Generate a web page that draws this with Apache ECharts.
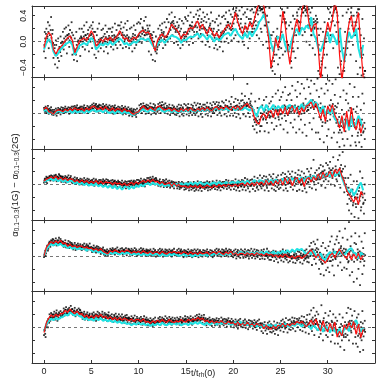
<!DOCTYPE html>
<html><head><meta charset="utf-8">
<script src="https://cdn.jsdelivr.net/npm/echarts@6/dist/echarts.min.js"></script>
<style>html,body{margin:0;padding:0;background:#fff}#c{width:382px;height:382px}</style>
</head><body><div id="c"></div>
<script>
// tick values
const xTicks = [0, 5, 10, 15, 20, 25, 30];
const yTicks = [-0.4, -0.2, 0, 0.2, 0.4];
const yLabelTicks = [-0.4, 0, 0.4];
// sampling steps (in t/t_rh(0)) of the line series and of the scatter points
const LINE_STEP = 0.25, DOT_STEP = 1 / 12;

// ---------- panel 1 ----------
const red1 = [-.09,.08,.14,.1, -.12,-.19,-.12,-.08, -.04,.02,.06,.09, .02,-.17,-.08,.01, .03,.06,.02,.08, .17,.1,-.07,-.02,
 .04,0,.06,.02, .07,.01,.05,.09, .17,.1,.04,.06, 0,.03,.07,.05, .12,.15,.18,.13, .15,.1,-.02,-.14,
 .02,.08,.12,.06, .1,.18,.27,.22, .19,.14,.04,.12, .1,.18,.22,.2, .27,.32,.2,.27, .18,.12,.22,.16,
 .08,.14,.06,.12, .17,.22,.27,.2, .32,.45,.3,.2, .12,.25,.18,.3, .22,.35,.5,.6, .62,.55,.3,.05,
 -.4,-.2,.06,-.1, .1,.47,.25,-.1, -.35,-.05,.2,.35, .15,.45,.62,.6, .3,.15,.25,.28, -.1,-.6,-.2,.1,
 .3,.15,.35,.62, .45,-.2,-.6,-.3, .05,.28,.4,.15, .3,.45,-.1,-.55];
const cyan1 = [-.12,-.02,.04,0, -.15,-.22,-.18,-.12, -.08,-.04,-.02,0, -.05,-.2,-.14,-.06, -.04,-.02,-.05,0, .06,.02,-.12,-.08,
 -.03,-.06,-.02,-.05, 0,-.05,-.02,.01, .05,.02,-.04,-.02, -.06,-.03,0,-.02, .02,.05,.04,.02, .05,0,-.06,-.1,
 -.04,0,.03,-.02, .02,.06,.1,.08, .07,.04,-.02,.03, .02,.06,.08,.07, .1,.13,.06,.12, .08,.03,.1,.05,
 0,.06,.02,.05, .1,.12,.14,.09, .16,.2,.12,.08, .04,.14,.06,.16, .08,.15,.2,.3, .35,.42,.3,.15,
 -.02,-.15,0,.08, .02,.12,-.05,-.15, -.1,.05,.15,.2, .1,.22,.18,.25, .2,.38,.12,.05, -.1,-.15,-.05,.08,
 .15,-.02,.12,.05, -.05,.2,-.12,-.3, 0,.15,.05,.1, .2,-.1,-.25,-.05];
const dots1 = [
 -.15,.15,-.25,.2,.05,.3,-.1,.25,0,.38,-.05,.18,
 -.25,-.05,-.35,.02,-.2,-.4,.05,-.3,-.1,.08,-.22,0,
 .15,-.12,.2,-.05,.22,-.18,.1,.25,-.08,.18,0,.3,
 -.2,.1,-.28,.05,-.15,.15,-.3,0,-.1,.2,-.22,.08,
 .2,-.08,.15,.25,-.12,.1,.3,-.05,.18,-.15,.22,0,
 .25,-.1,.3,.05,-.2,.15,-.25,.1,.2,-.15,.28,0,
 -.1,.18,-.05,.2,-.15,.12,.25,-.08,.15,-.18,.2,.05,
 .2,-.08,.15,.22,-.12,.1,.28,-.05,.18,-.1,.25,0,
 .25,-.05,.3,.1,-.1,.22,0,.28,-.08,.18,.32,.05,
 -.1,.2,-.05,.22,-.15,.12,.25,-.1,.18,-.05,.28,0,
 .3,0,.28,.35,-.02,.22,.05,.32,.1,.38,.02,.25,
 .2,-.15,.25,.05,-.2,.1,-.28,.15,-.1,-.3,.08,-.18,
 -.08,.2,-.05,.25,0,.18,.28,-.1,.15,.3,-.05,.22,
 .35,0,.3,.42,.05,.28,.45,.1,.32,-.02,.38,.15,
 0,.3,-.05,.25,.35,-.1,.2,.32,-.05,.28,.05,.38,
 .35,0,.32,.4,-.05,.25,.45,.05,.3,-.02,.38,.1,
 .1,.42,.15,.48,.05,.4,.5,.12,.35,0,.45,.2,
 .38,-.05,.3,.42,0,.35,-.08,.28,.45,.05,.32,.1,
 -.1,.3,-.05,.35,-.12,.25,.4,-.08,.28,0,.38,-.15,
 .4,0,.35,.45,.05,.3,-.02,.48,.1,.42,.02,.38,
 .5,.05,.45,.1,.52,.15,.4,0,.48,.2,.35,.53,
 0,.42,-.05,.45,.1,.38,.5,-.1,.35,.05,.48,.15,
 .5,.15,.45,.2,.53,.25,.1,.48,.3,.05,.52,.2,
 .15,.5,-.05,.45,.25,.53,0,.4,-.1,.3,.52,.1,
 -.4,.1,-.45,.15,-.3,-.5,.05,-.2,.2,-.35,0,-.25,
 .4,-.1,.5,-.2,.35,.45,-.15,.3,0,.52,-.05,.25,
 -.3,.3,-.4,.2,.4,-.15,.35,-.25,.1,.45,-.1,.5,
 .3,.53,.2,.5,.1,.45,.52,.15,.4,0,.48,.25,
 .5,-.05,.45,.1,.52,-.1,.35,.2,-.2,.4,.05,.3,
 -.45,.1,-.5,.2,-.3,-.52,.15,-.1,.3,-.4,0,-.2,
 .2,.5,.05,.45,.53,.1,.4,-.1,.48,.25,.52,.15,
 .3,-.4,.1,-.5,.2,-.3,-.52,.4,-.1,-.45,.15,-.2,
 .45,-.1,.5,0,.35,-.2,.52,.25,-.05,.4,.1,.3,
 -.3,.45,-.5,.2,.5,-.4,.1,-.52,.35,-.2,.05,-.45];
const dots1b = [
 -.05,.05,.12,0,.08,.15,.02,.1,.18,.06,.12,-.02,
 -.15,-.1,-.2,-.05,-.18,-.25,-.12,-.08,-.16,-.02,-.1,-.06,
 -.02,.05,0,.08,.03,.1,.05,.12,.02,.08,.06,.14,
 0,-.1,-.18,-.12,-.2,-.05,-.1,.02,-.03,.05,0,.06,
 .05,0,.08,.03,.1,.02,.06,.12,.04,.09,.01,.1,
 .12,.2,.08,.15,.02,-.05,-.1,0,-.05,.03,-.02,.05,
 .02,.06,-.02,.08,.03,0,.07,.04,-.01,.05,.09,.02,
 .06,.02,.09,.04,0,.07,.03,.08,.05,.1,.06,.12,
 .15,.2,.1,.14,.06,.1,.03,.08,.05,.1,.02,.07,
 .02,-.03,.05,0,.08,.03,.06,.1,.04,.07,.02,.08,
 .1,.14,.08,.16,.12,.2,.15,.1,.18,.14,.11,.16,
 .12,.16,.08,.12,.02,.06,-.04,0,-.1,-.15,-.08,-.12,
 0,.05,.03,.1,.06,.14,.09,.12,.04,.08,.02,.07,
 .08,.12,.15,.2,.18,.25,.3,.22,.28,.2,.24,.18,
 .2,.15,.22,.12,.16,.05,.08,.02,.1,.14,.08,.15,
 .08,.14,.12,.2,.16,.25,.2,.24,.18,.22,.15,.23,
 .25,.3,.22,.35,.28,.18,.24,.3,.2,.26,.32,.22,
 .2,.14,.18,.1,.15,.22,.25,.18,.2,.12,.16,.2,
 .06,.1,.04,.15,.1,.18,.05,.08,.14,.1,.16,.12,
 .15,.2,.18,.25,.22,.3,.25,.2,.28,.18,.24,.2,
 .28,.35,.4,.48,.42,.3,.35,.25,.2,.28,.15,.22,
 .1,.15,.2,.28,.22,.16,.2,.14,.25,.3,.35,.28,
 .2,.25,.3,.38,.32,.45,.5,.42,.55,.52,.48,.5,
 .5,.45,.52,.38,.42,.25,.3,.15,.1,0,-.1,.05,
 -.3,-.38,-.25,-.15,-.2,-.05,0,.08,-.05,-.12,-.08,0,
 .05,.15,.3,.4,.45,.35,.28,.2,0,-.05,-.15,-.08,
 -.25,-.3,-.15,-.1,0,.1,.15,.25,.3,.4,.32,.2,
 .2,.3,.4,.5,.45,.52,.55,.48,.5,.45,.53,.4,
 .35,.25,.2,.1,.18,.25,.3,.22,.32,.28,.35,.2,
 -.05,-.2,-.4,-.5,-.35,-.25,-.1,-.2,0,.05,.15,.1,
 .25,.35,.2,.1,.3,.4,.32,.45,.55,.5,.52,.45,
 .4,.3,0,-.15,-.35,-.5,-.55,-.45,-.4,-.3,-.2,-.1,
 0,.1,.2,.3,.35,.45,.4,.3,.2,.15,.1,.25,
 .3,.4,.5,.42,.2,0,-.1,-.25,-.4,-.5,-.55,-.45];

// ---------- panel 2 ----------
const red2 = [.06,.09,.02,.01, -.02,.03,.05,.04, .02,.06,.03,.07, .04,.08,.05,.06, .07,.03,.08,.05, .09,.11,.08,.06,
 .09,.05,.1,.06, .04,.08,.03,.07, .06,.02,.07,.03, .04,0,-.02,.01, .02,.07,.11,.07, .05,.09,.06,.04,
 .1,.11,.07,.05, .06,.08,.03,.07, .04,.02,.07,.03, .07,.03,.08,.04, .03,.07,.04,.08, .04,.09,.05,.03,
 .08,.1,.05,.09, .06,.11,.07,.05, .1,.06,.11,.05, .09,.12,.15,.09, .07,-.07,-.15,-.17, -.04,-.01,-.09,.01,
 .04,-.07,.06,-.04, .07,-.01,.09,-.03, .06,.11,.01,.09, -.03,.08,.02,.11, .13,.17,.07,.15, .03,-.09,.06,-.13,
 .11,.02,.13,-.03, -.11,-.23,-.04,-.29, .03,-.21,.09,-.16, -.26,-.09,-.31,-.17];
const cyan2 = [.03,.05,0,.01, -.02,.01,.03,.02, .01,.03,.02,.04, 0,.04,.01,.02, .03,0,.04,.01, .04,.05,.02,.03,
 .04,.01,.05,.01, 0,.03,-.01,.03, .02,-.01,.03,0, .01,-.02,-.03,.01, .01,.04,.06,.03, .02,.06,.03,.04,
 .06,.07,.03,.02, .04,.05,.01,.05, .02,.01,.05,.02, .05,.02,.06,.03, .02,.06,.03,.06, .03,.07,.04,.03,
 .06,.08,.04,.07, .05,.08,.04,.07, .08,.04,.09,.05, .05,.09,.06,.04, .09,.01,-.05,.07, .11,.03,.13,.05,
 .07,.13,.04,.11, .06,.12,.03,.1, .13,.05,.11,.04, .08,.14,.06,.12, .16,.21,.11,.17, .09,.01,.11,-.03,
 .06,-.01,.08,-.09, -.13,-.17,-.07,-.23, -.09,-.26,-.04,-.21, -.16,-.04,-.13,-.23];
const dots2 = [
 .08,.02,.1,0,.06,.11,-.01,.07,.03,.09,-.02,.05,
 -.03,.05,0,.07,-.04,.04,.08,.01,.06,-.02,.09,.03,
 .08,0,.07,.1,.01,.06,.03,.09,-.01,.08,.02,.1,
 .02,.1,.04,.11,.01,.09,.12,.03,.08,0,.1,.05,
 .1,.02,.09,.12,.01,.08,.04,.11,0,.09,.03,.11,
 .04,.13,.06,.15,.03,.12,.14,.05,.11,.02,.13,.08,
 .12,.03,.1,.14,.02,.11,.05,.13,.01,.1,.04,.12,
 .01,.1,.03,.11,-.01,.09,.12,.02,.08,0,.1,.05,
 .09,0,.07,.11,-.02,.08,.03,.1,-.01,.07,.02,.09,
 -.04,.06,-.02,.07,-.05,.04,.06,-.03,.05,-.06,.07,0,
 .02,.12,.05,.14,0,.1,.15,.03,.11,-.01,.13,.07,
 .12,0,.1,.15,-.02,.09,.03,.14,.01,.12,-.01,.08,
 .02,.14,.05,.16,0,.12,.17,.03,.13,.01,.15,.06,
 .11,-.01,.09,.13,-.03,.08,.02,.12,0,.1,-.02,.07,
 -.03,.1,0,.13,-.05,.08,.12,-.02,.09,-.04,.14,.03,
 .12,-.02,.09,.14,-.04,.08,.01,.13,-.03,.11,0,.16,
 -.03,.12,.01,.15,-.05,.09,.14,-.02,.1,-.06,.13,.04,
 .13,-.02,.1,.16,-.04,.09,.02,.15,-.05,.12,0,.17,
 0,.14,.04,.17,-.03,.12,.16,.01,.11,-.04,.18,.06,
 .16,-.02,.12,.2,-.05,.1,.02,.18,-.04,.14,.25,.05,
 -.04,.17,0,.22,-.06,.12,.2,-.02,.15,-.08,.19,.3,
 .2,-.02,.16,.26,-.05,.12,.45,0,.22,-.06,.18,.3,
 .1,-.2,.05,-.25,.18,-.1,-.3,.08,-.15,.22,-.28,0,
 -.2,.12,-.1,.2,-.28,.05,.25,-.15,.1,-.3,.15,-.05,
 .18,-.15,.25,-.05,-.25,.1,.3,-.2,.05,.35,-.1,.2,
 -.18,.25,-.08,.32,-.25,.12,.4,-.12,.2,-.3,.28,0,
 .3,-.15,.2,.42,-.22,.1,-.1,.35,-.3,.25,.48,-.05,
 -.25,.3,-.1,.45,-.3,.15,.38,-.18,.22,-.35,.52,.05,
 .4,-.15,.3,.5,-.25,.2,-.08,.45,.1,-.3,.35,.53,
 -.3,.25,-.4,.15,.38,-.2,.05,-.45,.3,-.15,.45,-.35,
 .35,-.25,.5,-.1,.2,-.38,.45,0,-.3,.28,.52,-.15,
 -.45,.15,-.3,-.52,.25,-.2,.05,-.4,.35,-.5,-.1,.2,
 .3,-.4,.15,-.25,.45,-.5,0,-.35,.25,-.15,.4,-.45,
 -.5,.1,-.35,.25,-.45,-.15,.05,-.52,.3,-.3,.15,-.4];
const dots2b = [
 .05,.07,.03,.08,.02,.06,.04,.01,.05,.03,0,.02,
 0,.02,-.01,.03,.04,.01,.05,.03,.06,.04,.02,.05,
 .03,.05,.02,.06,.04,.07,.03,.05,.06,.04,.07,.05,
 .05,.07,.04,.08,.06,.05,.07,.04,.06,.08,.05,.07,
 .06,.04,.07,.05,.08,.06,.04,.07,.05,.06,.08,.05,
 .08,.1,.07,.11,.09,.08,.1,.07,.09,.11,.08,.06,
 .08,.06,.09,.07,.1,.08,.06,.09,.07,.08,.05,.07,
 .05,.07,.04,.06,.08,.05,.07,.04,.06,.05,.03,.06,
 .05,.03,.06,.04,.07,.05,.03,.06,.04,.05,.02,.04,
 .03,.01,.04,.02,0,.02,-.01,.01,-.02,0,.02,.01,
 .03,.05,.08,.06,.1,.07,.11,.09,.07,.1,.08,.06,
 .06,.08,.05,.09,.07,.05,.08,.06,.09,.04,.07,.05,
 .08,.1,.07,.11,.09,.12,.08,.06,.09,.07,.05,.08,
 .05,.07,.04,.08,.06,.03,.07,.05,.08,.04,.06,.05,
 .04,.06,.03,.07,.05,.02,.06,.04,.07,.03,.05,.04,
 .05,.07,.04,.08,.06,.03,.07,.05,.08,.04,.06,.05,
 .05,.03,.07,.04,.08,.05,.06,.03,.07,.05,.08,.06,
 .06,.04,.08,.05,.09,.06,.04,.07,.05,.08,.03,.06,
 .07,.09,.05,.1,.07,.08,.06,.1,.07,.09,.05,.08,
 .08,.06,.1,.07,.11,.08,.06,.09,.07,.1,.05,.08,
 .08,.1,.06,.11,.07,.09,.05,.1,.08,.06,.11,.07,
 .1,.12,.08,.14,.1,.16,.11,.13,.09,.15,.12,.08,
 .04,-.04,-.1,-.14,-.08,-.18,-.12,-.05,-.16,-.1,-.2,-.06,
 -.05,-.01,-.08,.02,-.04,-.1,0,-.06,.03,-.03,-.07,.01,
 .02,-.05,.06,-.03,.04,-.08,.07,-.01,.03,-.06,.05,-.02,
 .05,-.01,.09,.02,.07,-.04,.1,0,.06,-.03,.08,.03,
 .07,.02,.11,.04,.09,0,.12,.05,.08,.01,.1,.06,
 .02,.08,-.01,.1,.04,.12,0,.07,.11,.03,.09,.05,
 .12,.16,.08,.18,.1,.14,.06,.17,.11,.15,.09,.13,
 .04,-.06,.08,-.1,.02,-.14,.06,-.04,.1,-.08,0,-.12,
 .08,.02,.12,-.02,.1,.04,.14,-.05,.06,.11,0,.09,
 -.1,-.2,-.06,-.26,-.14,-.3,-.08,-.22,-.02,-.18,-.28,-.12,
 -.05,-.18,.04,-.12,.08,-.2,0,-.15,.06,-.1,-.22,.02,
 -.22,-.12,-.3,-.08,-.25,-.18,-.34,-.1,-.2,-.28,-.15,-.24];

// ---------- panel 3 ----------
const red3 = [.05,.08,.1,.12, .09,.13,.08,.11, .07,.1,.06,.09, .08,.04,.07,.03, .07,.03,.06,.02, .05,.02,.06,.01,
 .05,.01,.04,.03, .03,0,.03,.01, .02,-.01,.02,-.02, .01,.03,0,.04, .01,.04,.06,.03, .07,.04,.08,.04,
 .05,.01,.04,0, .01,.03,-.02,.02, -.02,0,-.03,-.02, -.03,-.05,-.02,-.04, -.02,-.05,-.01,-.05, -.04,-.01,-.03,-.05,
 -.01,-.04,0,-.03, 0,-.03,.01,-.02, -.02,.01,-.03,.01, .02,-.02,.03,-.01, .03,-.02,.04,0, .04,-.01,.07,0,
 .05,-.02,.06,.01, .08,-.01,.1,.01, .09,-.02,.07,.11, .02,.1,-.03,.08, .11,.04,.12,.07, .16,.08,.19,.11,
 .14,.2,.11,.23, .17,.25,.13,.04, -.09,-.15,-.21,-.27, -.19,-.31,-.11,-.17];
const cyan3 = [.04,.06,.07,.09, .06,.09,.05,.08, .04,.07,.03,.06, .05,.01,.04,0, .03,-.01,.02,-.02, .01,-.02,.02,-.03,
 0,-.04,-.01,-.05, -.01,-.06,-.02,-.07, -.03,-.08,-.04,-.02, -.07,-.03,-.06,-.01, -.04,0,-.03,.01, .02,-.01,.03,0,
 .01,-.02,.01,-.03, 0,-.02,.01,-.02, .01,-.01,.02,-.01, .02,0,.03,0, .03,0,.04,.01, 0,.03,-.01,.02,
 .03,0,.04,.01, .01,.04,0,.03, .04,.01,.05,.02, .05,.01,.06,.02, .03,.07,.02,.06, .06,.02,.07,.03,
 .07,.02,.08,.03, .04,.09,.03,.08, .05,.1,.04,.09, .08,.11,.05,.1, .12,.07,.14,.09, .15,.09,.16,.11,
 .17,.12,.19,.13, .16,.2,.11,.01, -.06,-.13,-.07,-.17, -.11,-.03,.03,-.09];
const dots3 = [
 .03,.09,.05,.12,.02,.1,.07,.13,.06,.14,.08,.11,
 .06,.14,.08,.15,.05,.12,.1,.16,.07,.13,.04,.12,
 .12,.04,.1,.13,.03,.11,.06,.14,.05,.1,.13,.04,
 .02,.09,.04,.11,.01,.08,.1,.03,.07,0,.09,.05,
 .08,0,.06,.1,.01,.07,.03,.09,-.01,.08,.02,.06,
 0,.07,.02,.09,-.02,.06,.08,.01,.05,-.01,.07,.03,
 .07,-.01,.05,.08,-.02,.06,0,.08,.02,.07,-.03,.04,
 -.02,.06,0,.07,-.03,.05,.06,-.01,.04,-.04,.06,.02,
 .04,-.04,.02,.06,-.05,.03,-.02,.05,-.06,.04,0,.05,
 -.03,.05,0,.06,-.04,.04,.06,-.02,.05,-.03,.07,.01,
 .07,-.01,.05,.09,-.02,.06,.01,.08,-.03,.07,.02,.1,
 .02,.1,.04,.11,.01,.08,.12,.03,.09,0,.1,.05,
 .06,-.02,.05,.08,-.03,.04,0,.07,-.04,.06,.01,.08,
 -.04,.05,-.02,.06,-.05,.03,.05,-.03,.04,-.06,.03,0,
 .03,-.06,.01,.04,-.07,.02,-.05,.04,-.03,.02,-.08,0,
 -.07,.02,-.05,.04,-.09,.01,.03,-.08,0,-.06,.04,-.1,
 .02,-.08,.01,.05,-.09,0,-.06,.04,-.1,.02,-.05,.03,
 -.07,.03,-.05,.05,-.09,.02,.04,-.08,.01,-.06,.05,-.04,
 .03,-.07,.02,.06,-.08,.01,-.05,.05,-.09,.03,-.04,.04,
 -.06,.04,-.03,.07,-.07,.03,.06,-.05,.02,-.08,.05,0,
 .05,-.07,.03,.08,-.09,.02,-.05,.06,-.1,.04,-.03,.07,
 -.08,.06,-.04,.1,-.09,.04,.08,-.06,.05,-.11,.07,-.02,
 .08,-.07,.05,.12,-.1,.03,-.05,.1,-.08,.06,.14,-.03,
 -.06,.1,-.02,.13,-.09,.07,.12,-.05,.08,-.1,.15,0,
 .12,-.06,.09,.16,-.08,.04,-.1,.11,-.04,.14,-.07,.06,
 -.05,.15,0,.18,-.09,.1,.16,-.06,.12,-.1,.2,.02,
 .16,-.04,.12,.2,-.08,.09,-.02,.18,.05,-.1,.15,.22,
 -.08,.14,0,.2,-.1,.1,.17,-.06,.12,-.12,.24,.04,
 .2,-.04,.15,.25,-.06,.12,.38,0,.18,-.08,.22,.1,
 .02,.25,.08,.3,-.02,.2,.28,.05,.22,-.05,.33,.15,
 .3,.05,.25,.35,0,.22,.1,.42,.18,-.02,.28,.08,
 .05,.38,.15,.45,-.05,.3,.2,.5,.1,-.12,.28,0,
 -.05,-.3,.1,-.4,-.15,.15,-.45,-.08,-.32,.05,-.5,-.2,
 -.35,.05,-.2,-.52,-.05,.2,-.4,-.15,.1,-.3,-.45,0];
const dots3b = [
 .06,.08,.04,.1,.07,.11,.09,.12,.08,.1,.13,.09,
 .11,.09,.13,.1,.12,.08,.11,.14,.09,.12,.1,.08,
 .09,.07,.1,.06,.08,.11,.07,.09,.06,.1,.08,.07,
 .06,.04,.07,.05,.03,.06,.04,.07,.05,.03,.06,.04,
 .05,.03,.06,.02,.04,.05,.03,.06,.02,.04,.03,.05,
 .03,.05,.02,.04,.01,.03,.05,.02,.04,.01,.03,.02,
 .03,.01,.04,.02,.05,.03,.01,.04,.02,.03,.05,.02,
 .02,0,.03,.01,.04,.02,0,.03,.01,.02,.04,.01,
 0,.02,-.01,.01,-.02,0,.02,-.01,.01,-.02,0,.01,
 .01,.03,0,.02,-.01,.01,.03,0,.02,.01,-.01,.02,
 .03,.05,.02,.04,.01,.03,.05,.02,.04,.06,.03,.04,
 .06,.04,.07,.05,.08,.06,.04,.07,.05,.06,.08,.05,
 .03,.01,.04,.02,0,.03,.01,.04,.02,0,.03,.02,
 .01,-.01,.02,0,-.02,.01,.02,-.01,0,.02,-.01,.01,
 -.02,0,-.03,-.01,-.04,-.02,0,-.03,-.01,-.02,-.04,-.01,
 -.03,-.01,-.04,-.02,-.05,-.03,-.01,-.04,-.02,-.03,-.05,-.02,
 -.03,-.05,-.02,-.04,-.01,-.03,-.05,-.02,-.04,-.03,-.01,-.04,
 -.02,-.04,-.01,-.03,-.05,-.02,-.04,-.01,-.03,-.02,-.04,-.03,
 -.02,0,-.03,-.01,-.04,-.02,0,-.03,-.01,-.02,-.04,-.01,
 -.01,.01,-.02,0,-.03,-.01,.01,-.02,0,-.01,-.03,0,
 -.01,.02,-.03,.01,-.02,0,-.04,.02,-.01,.01,-.03,0,
 0,.03,-.02,.02,-.01,.04,-.03,.01,.03,-.02,.02,0,
 .01,.04,-.02,.03,0,.05,-.03,.02,.04,-.01,.03,.01,
 .02,.05,-.01,.04,.01,.06,-.02,.03,.05,0,.04,.02,
 .03,0,.05,.01,.06,-.02,.04,.02,.07,-.01,.03,.05,
 .04,.08,0,.06,.02,.09,-.01,.05,.07,.01,.1,.03,
 .06,.02,.09,0,.08,.04,.11,.01,.07,.1,.03,.06,
 .04,.08,0,.06,.02,.09,-.02,.05,.07,.01,.1,.03,
 .08,.12,.05,.1,.06,.13,.04,.09,.11,.07,.14,.08,
 .12,.16,.09,.18,.1,.14,.2,.11,.15,.08,.17,.13,
 .15,.19,.12,.22,.14,.18,.25,.16,.2,.13,.23,.17,
 .17,.22,.13,.25,.16,.2,.12,.24,.06,0,.1,-.04,
 -.1,-.16,-.05,-.22,-.12,-.25,-.18,-.08,-.28,-.14,-.2,-.3,
 -.22,-.15,-.3,-.1,-.25,-.18,-.35,-.12,-.2,-.28,-.14,-.24];

// ---------- panel 4 ----------
const red4 = [0,.13,.18,.22, .19,.23,.2,.24, .19,.2,.15,.18, .14,.16,.13,.15, .15,.12,.14,.11, .12,.09,.11,.08,
 .11,.07,.05,.03, .08,.06,.09,.07, .05,.08,.06,.09, .07,.04,.07,.05, .07,.04,.08,.05, .04,.07,.03,.06,
 .06,.03,.07,.04, .03,.06,.05,.07, .04,.06,.03,.06, .05,.02,.06,.03, .05,.02,.06,.03, .04,.06,.02,.05,
 .06,.03,.07,.04, .02,.06,.03,.07, .02,.05,.01,.04, .04,.01,.05,.02, .04,.01,.05,.02, .03,0,.04,.01,
 .03,-.01,.02,-.02, .01,-.02,.03,-.01, -.03,0,-.04,-.01, 0,-.04,-.01,.02, .06,.09,.03,-.03, .03,-.05,-.07,-.11,
 -.05,.01,.04,-.03, .05,.1,.04,0, -.04,.05,-.06,.03, -.04,.04,-.06,.01];
const cyan4 = [0,.1,.15,.18, .16,.19,.16,.19, .15,.16,.12,.14, .11,.13,.1,.12, .1,.12,.08,.11, .09,.06,.09,.05,
 .07,.04,.03,.02, .05,.03,.05,.04, .02,.05,.03,.05, .04,.02,.04,.02, .04,.01,.03,.02, .01,.04,.01,.03,
 .03,0,.03,.01, 0,.03,.01,.03, .02,0,.01,.03, 0,.02,.01,-.01, .02,0,.02,.01, .03,0,.03,.01,
 .04,.02,.05,.02, .01,.04,.02,.04, .03,.05,.02,.06, .05,.02,.06,.03, .05,.03,.06,.02, .06,.03,.07,.04,
 .03,.07,.02,.06, .04,.08,.04,.09, .05,.1,.06,.11, .09,.11,.06,.03, .07,.02,.08,.01, -.02,.04,-.04,-.06,
 .02,.06,.01,.07, .02,.08,.03,.01, .06,.1,.12,.05, .03,-.04,.05,.01];
const dots4 = [
 -.02,.05,0,.1,.15,.08,.18,.22,.14,.24,.19,.26,
 .25,.17,.23,.27,.16,.24,.2,.28,.18,.26,.22,.17,
 .22,.14,.2,.24,.13,.19,.16,.23,.12,.21,.15,.2,
 .18,.1,.16,.2,.09,.17,.12,.19,.11,.15,.18,.1,
 .09,.17,.11,.19,.1,.15,.18,.08,.16,.12,.19,.1,
 .14,.06,.12,.16,.07,.13,.05,.15,.09,.14,.06,.12,
 .03,.11,.06,.13,.02,.09,.01,.07,.1,0,.08,.04,
 .11,.03,.09,.12,.04,.1,.02,.11,.06,.13,.03,.08,
 .03,.11,.06,.12,.02,.09,.1,.04,.12,.01,.08,.11,
 .1,.02,.08,.11,.01,.09,.05,.12,.03,.1,0,.07,
 .02,.1,.05,.12,.01,.09,.11,.03,.08,0,.1,.06,
 .09,.01,.08,.1,0,.07,.03,.11,.02,.09,-.01,.06,
 0,.09,.04,.11,.02,.08,.1,-.01,.07,.03,.1,.01,
 .09,0,.07,.1,.02,.08,-.01,.09,.04,.11,.01,.06,
 .01,.09,.03,.11,0,.08,.1,.02,.07,-.02,.09,.04,
 .08,-.01,.06,.1,0,.07,.02,.09,-.02,.08,.03,.1,
 0,.08,.03,.1,-.02,.07,.09,.01,.06,-.01,.09,.05,
 .08,0,.07,.1,-.01,.06,.02,.09,0,.08,-.02,.06,
 .01,.09,.03,.11,0,.08,.1,.02,.07,-.01,.1,.04,
 .09,0,.07,.11,.01,.08,-.01,.1,.03,.09,0,.06,
 -.02,.08,.01,.1,-.04,.06,.09,-.01,.07,-.03,.1,.03,
 .08,-.03,.06,.1,-.02,.07,0,.09,-.04,.08,.02,.11,
 -.03,.07,0,.1,-.04,.06,.09,-.02,.08,.01,-.05,.05,
 .09,-.04,.06,.1,-.05,.04,0,.11,-.03,.07,-.06,.05,
 -.06,.06,-.02,.08,-.08,.03,.07,-.05,.05,-.1,.04,-.03,
 .07,-.07,.04,.1,-.09,.02,-.04,.08,-.06,.05,-.1,.03,
 -.08,.06,-.04,.08,-.1,.02,.05,-.11,.03,-.07,.07,-.05,
 .06,-.1,.04,.09,-.12,.02,-.07,.08,-.04,.1,-.09,.05,
 -.1,.15,0,.2,-.14,.1,.22,-.05,.18,-.12,.12,.25,
 .1,-.2,.05,-.28,.15,-.12,.2,-.3,-.02,.12,-.22,.08,
 -.18,.15,-.25,.22,-.08,.3,-.15,.1,-.3,.18,-.05,.25,
 .3,-.15,.2,.38,-.1,.15,-.22,.28,.05,-.18,.42,.1,
 -.2,.25,-.1,.52,-.3,.15,.3,-.25,.08,-.4,.2,.35,
 .18,-.35,.1,-.2,.3,-.45,.05,.22,-.28,.12,-.15,.35];
const dots4b = [
 .02,.08,.04,.12,.16,.11,.2,.17,.21,.19,.23,.2,
 .21,.19,.23,.2,.22,.18,.24,.21,.2,.23,.19,.22,
 .19,.17,.2,.16,.18,.15,.19,.17,.16,.18,.14,.17,
 .15,.13,.16,.14,.12,.15,.13,.16,.14,.12,.15,.13,
 .13,.15,.12,.14,.11,.13,.15,.12,.14,.11,.13,.12,
 .1,.12,.09,.11,.08,.1,.12,.09,.11,.08,.1,.09,
 .09,.07,.1,.06,.08,.05,.07,.04,.06,.05,.07,.05,
 .07,.09,.06,.08,.07,.09,.06,.08,.07,.06,.09,.07,
 .07,.05,.08,.06,.09,.07,.05,.08,.06,.07,.05,.08,
 .06,.08,.05,.07,.06,.04,.07,.05,.08,.06,.05,.07,
 .06,.04,.07,.05,.08,.06,.04,.07,.05,.06,.08,.05,
 .05,.07,.04,.06,.05,.03,.06,.04,.07,.05,.04,.06,
 .05,.03,.06,.04,.07,.05,.03,.06,.04,.05,.07,.04,
 .04,.06,.05,.03,.06,.04,.07,.05,.03,.06,.04,.05,
 .05,.03,.06,.04,.05,.07,.04,.06,.03,.05,.06,.04,
 .04,.06,.03,.05,.02,.04,.06,.03,.05,.04,.02,.05,
 .03,.05,.04,.02,.05,.03,.06,.04,.02,.05,.03,.04,
 .04,.02,.05,.03,.06,.04,.02,.05,.03,.04,.06,.03,
 .05,.03,.06,.04,.02,.05,.04,.06,.03,.05,.04,.06,
 .04,.06,.03,.05,.07,.04,.03,.06,.05,.03,.06,.04,
 .03,.01,.04,.02,.05,.03,.01,.04,.02,.03,.05,.02,
 .03,.05,.02,.04,.01,.03,.05,.02,.04,.03,.01,.04,
 .03,.01,.04,.02,.05,.03,0,.04,.02,.03,.05,.01,
 .02,.04,.01,.03,0,.02,.04,.01,.03,.02,0,.03,
 .01,-.01,.02,0,.03,-.02,.01,.02,-.01,0,.02,-.01,
 0,.02,-.02,.01,-.01,.03,0,-.02,.02,-.01,.01,0,
 -.02,0,-.04,-.01,-.03,.01,-.02,-.04,0,-.03,-.01,-.02,
 -.01,.01,-.03,0,-.02,.02,-.01,-.04,.01,-.02,0,-.03,
 .04,.08,.02,.1,.05,0,.07,.03,.09,-.01,.06,.02,
 0,-.06,.04,-.09,-.03,-.12,.02,-.07,-.1,-.04,.01,-.08,
 -.04,.02,-.08,.05,-.02,.04,-.06,.07,0,-.03,.06,-.01,
 .06,.02,.1,.04,.12,0,.08,.03,.11,.05,-.02,.07,
 -.05,.03,-.08,.06,-.02,.08,-.06,.01,.05,-.09,.04,-.03,
 .02,-.06,.05,-.03,.07,-.09,0,.04,-.05,.03,-.08,.01];

// ---------- panel 5 ----------
const red5 = [-.08,.07,.14,.19, .16,.2,.17,.21, .21,.26,.23,.28, .24,.21,.25,.2, .21,.16,.19,.14, .18,.14,.19,.16,
 .2,.15,.17,.13, .16,.12,.15,.11, .15,.11,.14,.12, .1,.13,.09,.12, .12,.09,.13,.08, .09,.06,.1,.07,
 .11,.08,.12,.09, .08,.12,.09,.07, .1,.08,.12,.09, .08,.12,.1,.13, .11,.15,.12,.14, .09,.11,.07,.1,
 .06,.09,.07,.1, .07,.05,.09,.06, .07,.04,.08,.03, .06,.03,.07,.04, .05,.02,.06,.03, .04,-.02,.03,-.01,
 -.03,.02,-.02,.03, .02,.06,.01,.05, .02,.06,.04,.09, .06,.09,.05,.01, .05,.11,.03,.13, .02,-.06,.1,-.01,
 -.07,.06,-.04,.08, -.15,-.06,-.13,.04, -.03,.07,-.01,.09, -.11,.05,-.16,-.03];
const cyan5 = [-.06,.05,.1,.13, .11,.14,.12,.15, .16,.2,.18,.23, .2,.18,.21,.17, .16,.12,.14,.11, .13,.1,.14,.11,
 .14,.1,.12,.09, .11,.08,.1,.07, .09,.06,.08,.05, .06,.03,.06,.04, .07,.04,.06,.03, .05,.02,.05,.03,
 .06,.03,.07,.04, .03,.06,.04,.07, .04,.07,.03,.05, .06,.03,.07,.05, .08,.05,.08,.05, .04,.07,.04,.06,
 .07,.04,.08,.05, .08,.05,.07,.04, .05,.08,.06,.09, .04,.06,.03,.06, .02,.05,.01,.04, 0,.03,.01,.04,
 .03,0,.04,.01, .05,.02,.06,.02, .01,.05,.02,.06, .05,.01,.06,.02, .02,-.03,.05,-.01, -.05,.03,-.07,.02,
 -.01,-.08,.01,-.06, -.09,-.02,-.11,-.03, .01,-.06,.04,.07, .11,.01,-.07,-.01];
const dots5 = [
 -.12,-.05,-.15,.02,.08,0,.12,.2,.1,.22,.14,.19,
 .15,.24,.12,.2,.26,.1,.19,.23,.14,.25,.17,.21,
 .2,.29,.18,.27,.31,.21,.26,.19,.3,.24,.33,.22,
 .28,.19,.25,.3,.17,.24,.27,.2,.29,.18,.26,.22,
 .22,.13,.19,.24,.12,.2,.15,.23,.11,.18,.21,.14,
 .12,.21,.16,.23,.13,.2,.1,.19,.24,.15,.22,.13,
 .2,.13,.24,.16,.11,.22,.14,.2,.1,.19,.23,.12,
 .18,.1,.2,.13,.08,.19,.15,.21,.11,.17,.09,.2,
 .09,.17,.12,.2,.1,.16,.07,.18,.14,.19,.08,.15,
 .15,.06,.13,.17,.05,.14,.09,.18,.07,.12,.16,.06,
 .05,.14,.08,.16,.1,.04,.13,.17,.06,.12,.15,.03,
 .12,.03,.1,.14,.05,.11,.02,.13,.07,.15,.04,.09,
 .06,.14,.09,.16,.04,.12,.15,.07,.13,.05,.17,.08,
 .14,.05,.12,.16,.07,.13,.04,.15,.1,.06,.14,.11,
 .06,.15,.09,.13,.04,.16,.11,.07,.14,.05,.12,.17,
 .13,.05,.16,.08,.14,.06,.17,.11,.04,.15,.09,.12,
 .17,.08,.19,.1,.16,.2,.09,.15,.18,.07,.14,.19,
 .05,.14,.03,.12,.13,.06,.15,.04,.11,.02,.13,.08,
 .12,.03,.11,.14,.04,.1,.13,.02,.09,.15,.05,.12,
 .03,.13,.06,.12,.01,.11,.14,.05,.1,.02,.13,.07,
 .1,0,.08,.12,.02,.09,-.02,.11,.04,.13,.01,.07,
 0,.1,.03,.12,-.01,.09,.06,-.03,.11,.02,.1,.04,
 .09,-.02,.07,.11,0,.08,-.04,.1,.02,.12,-.01,.06,
 -.06,.06,-.09,.04,.08,-.05,.02,-.1,.07,-.03,.09,-.07,
 .05,-.08,.03,-.06,.09,-.1,.04,-.04,.07,-.12,.02,.06,
 -.05,.1,0,.12,-.07,.08,-.02,.14,.05,-.08,.11,-.03,
 .12,-.04,.09,.15,-.02,.1,.14,-.06,.08,.13,0,.11,
 .14,-.04,.1,.17,-.06,.08,.16,0,-.08,.12,.19,.02,
 -.1,.2,.02,.26,-.06,.15,.3,-.12,.18,.05,.24,-.04,
 .2,-.15,.1,-.1,.34,.05,-.2,.14,-.05,.22,-.12,.08,
 -.15,.18,-.05,.25,-.22,.1,-.12,.2,.05,-.25,.15,-.08,
 .1,-.25,-.05,.2,-.3,.05,-.2,.15,-.12,-.35,.08,-.15,
 .22,-.12,.3,-.2,.1,.28,-.08,.18,-.25,.05,.25,-.15,
 -.25,.15,-.3,.2,-.1,-.38,.08,-.2,.25,-.35,-.05,.1];
const dots5b = [
 -.04,-.1,0,.05,.1,.13,.07,.16,.15,.18,.2,.16,
 .2,.16,.18,.22,.17,.2,.15,.21,.19,.16,.22,.18,
 .23,.25,.21,.27,.24,.22,.28,.25,.23,.26,.24,.28,
 .24,.22,.26,.21,.23,.25,.2,.24,.22,.27,.21,.23,
 .19,.17,.21,.15,.18,.16,.2,.14,.17,.19,.15,.16,
 .16,.19,.15,.18,.17,.14,.2,.16,.18,.15,.19,.17,
 .18,.15,.2,.17,.16,.19,.14,.17,.15,.18,.16,.14,
 .14,.16,.12,.15,.13,.17,.14,.12,.16,.13,.15,.12,
 .13,.11,.15,.12,.14,.1,.13,.15,.11,.14,.12,.13,
 .11,.13,.09,.12,.1,.14,.11,.09,.12,.1,.13,.11,
 .1,.12,.08,.11,.13,.09,.11,.1,.12,.08,.11,.09,
 .08,.1,.06,.09,.07,.1,.08,.06,.09,.07,.1,.08,
 .1,.08,.12,.09,.11,.08,.1,.12,.09,.11,.08,.1,
 .09,.11,.08,.1,.12,.09,.08,.11,.1,.07,.1,.09,
 .1,.08,.11,.09,.12,.1,.08,.11,.09,.1,.12,.09,
 .11,.09,.12,.1,.08,.11,.13,.1,.09,.12,.1,.11,
 .13,.11,.14,.12,.15,.13,.11,.14,.12,.13,.15,.12,
 .09,.11,.08,.1,.07,.09,.11,.08,.1,.09,.07,.1,
 .08,.06,.09,.07,.1,.08,.06,.09,.07,.08,.1,.07,
 .07,.09,.06,.08,.1,.07,.06,.09,.08,.06,.08,.07,
 .06,.04,.07,.05,.08,.06,.03,.07,.05,.04,.06,.05,
 .05,.07,.04,.06,.03,.05,.07,.04,.06,.05,.03,.06,
 .04,.06,.02,.05,.03,.06,.04,.02,.05,.03,.06,.04,
 .01,.03,-.01,.02,0,.03,-.02,.01,.02,-.01,.03,0,
 0,-.02,.02,-.01,.01,-.03,0,.02,-.02,.01,-.01,.02,
 .03,.05,.01,.04,.02,.06,.03,0,.05,.02,.04,.03,
 .05,.03,.07,.04,.06,.08,.04,.07,.05,.09,.06,.07,
 .07,.04,.08,.05,.09,.03,.07,.06,.02,.08,.04,.06,
 .06,.1,.03,.12,.07,.09,.02,.11,.05,.13,.08,.04,
 .04,-.02,.08,0,.06,-.04,.1,.02,-.01,.07,.03,-.03,
 -.03,.06,-.06,.04,0,.08,-.05,.03,.07,-.02,.05,-.04,
 -.1,-.04,-.14,0,-.08,-.12,.02,-.06,-.15,-.02,-.1,.03,
 .04,-.03,.08,.01,.06,-.05,.1,.02,.07,-.02,.05,.09,
 -.08,.02,-.13,.04,-.05,-.16,0,-.1,.06,-.14,-.03,-.07];

const panels = [
  {red: red1, cyan: cyan1, dots: dots1, dotsB: dots1b},
  {red: red2, cyan: cyan2, dots: dots2, dotsB: dots2b},
  {red: red3, cyan: cyan3, dots: dots3, dotsB: dots3b},
  {red: red4, cyan: cyan4, dots: dots4, dotsB: dots4b},
  {red: red5, cyan: cyan5, dots: dots5, dotsB: dots5b}
];

const X_MIN = -1.27, X_MAX = 35.0, Y_MIN = -0.55, Y_MAX = 0.55;
const TOPS = [6, 77.4, 148.8, 220.2, 291.6], H = 71.4;
const AX = '#333', FONT = '"Liberation Sans", Arial, sans-serif';

const grid = [], xAxis = [], yAxis = [], series = [];
panels.forEach((p, i) => {
  grid.push({left: 32, right: 7, top: TOPS[i], height: H, containLabel: false});
  const isLast = i === panels.length - 1, isFirst = i === 0;
  const tick = {show: true, inside: true, length: 3, lineStyle: {color: AX, width: 1}};
  const line = {show: true, onZero: false, lineStyle: {color: AX, width: 1}};
  xAxis.push({
    gridIndex: i, type: 'value', min: X_MIN, max: X_MAX, position: 'bottom', axisLine: line,
    axisTick: Object.assign({customValues: xTicks}, tick),
    axisLabel: {show: isLast, customValues: xTicks, fontSize: 9, color: '#222', margin: 4, fontFamily: FONT},
    splitLine: {show: false}
  });
  xAxis.push({
    gridIndex: i, type: 'value', min: X_MIN, max: X_MAX, position: 'top', axisLine: line,
    axisTick: Object.assign({customValues: xTicks}, tick),
    axisLabel: {show: false}, splitLine: {show: false}
  });
  yAxis.push({
    gridIndex: i, type: 'value', min: Y_MIN, max: Y_MAX, position: 'left', axisLine: line,
    axisTick: Object.assign({customValues: yTicks}, tick),
    axisLabel: {show: isFirst, customValues: yLabelTicks, rotate: 90, fontSize: 8.5, color: '#222', margin: 4, fontFamily: FONT,
      formatter: v => (v < 0 ? '\u2212' : '') + Math.abs(v).toFixed(1)},
    splitLine: {show: false}
  });
  yAxis.push({
    gridIndex: i, type: 'value', min: Y_MIN, max: Y_MAX, position: 'right', axisLine: line,
    axisTick: Object.assign({customValues: yTicks}, tick),
    axisLabel: {show: false}, splitLine: {show: false}
  });
  const xi = 2 * i, yi = 2 * i;
  const dotStyle = {type: 'scatter', xAxisIndex: xi, yAxisIndex: yi, symbol: 'rect', symbolSize: 1.8,
    itemStyle: {color: '#000'}, silent: true, z: 2};
  series.push(Object.assign({}, dotStyle, {
    data: p.dots.map((v, k) => [k * DOT_STEP, v]),
    markLine: {silent: true, symbol: 'none', label: {show: false}, z: 1,
      lineStyle: {type: [3, 3], color: '#555', width: 0.8}, data: [{yAxis: 0}]}
  }));
  series.push(Object.assign({}, dotStyle, {data: p.dotsB.map((v, k) => [(k + 0.5) * DOT_STEP, v])}));
  series.push({
    type: 'line', xAxisIndex: xi, yAxisIndex: yi, showSymbol: false, symbol: 'none', z: 3,
    lineStyle: {color: '#1fe3e3', width: 2}, data: p.cyan.map((v, k) => [k * LINE_STEP, v])
  });
  series.push({
    type: 'line', xAxisIndex: xi, yAxisIndex: yi, showSymbol: false, symbol: 'none', z: 4,
    lineStyle: {color: '#ff1010', width: 1.2}, data: p.red.map((v, k) => [k * LINE_STEP, v])
  });
});

const chart = echarts.init(document.getElementById('c'), null, {renderer: 'canvas'});
chart.setOption({
  animation: false,
  backgroundColor: '#fff',
  grid, xAxis, yAxis, series,
  graphic: [
    {type: 'text', left: 191, top: 369, z: 10,
      style: {text: '{n|t/t}{s|rh}{n|(0)}', fill: '#222', font: '9px ' + FONT,
        rich: {n: {fontSize: 9, fontFamily: FONT, fill: '#222', lineHeight: 11, verticalAlign: 'middle'},
               s: {fontSize: 6.5, fontFamily: FONT, fill: '#222', lineHeight: 6, verticalAlign: 'bottom'}}}},
    {type: 'text', x: 15, y: 185, rotation: Math.PI / 2, z: 10,
      style: {text: '{a|\u03b1}{s|0.1\u22120.3}{a|(1G) \u2212 \u03b1}{s|0.1\u22120.3}{a|(2G)}',
        align: 'center', verticalAlign: 'middle', fill: '#222',
        rich: {a: {fontSize: 9.5, fontFamily: FONT, fill: '#222', lineHeight: 12, verticalAlign: 'middle'},
               s: {fontSize: 6.5, fontFamily: FONT, fill: '#222', lineHeight: 6, verticalAlign: 'bottom'}}}}
  ]
});
</script></body></html>
